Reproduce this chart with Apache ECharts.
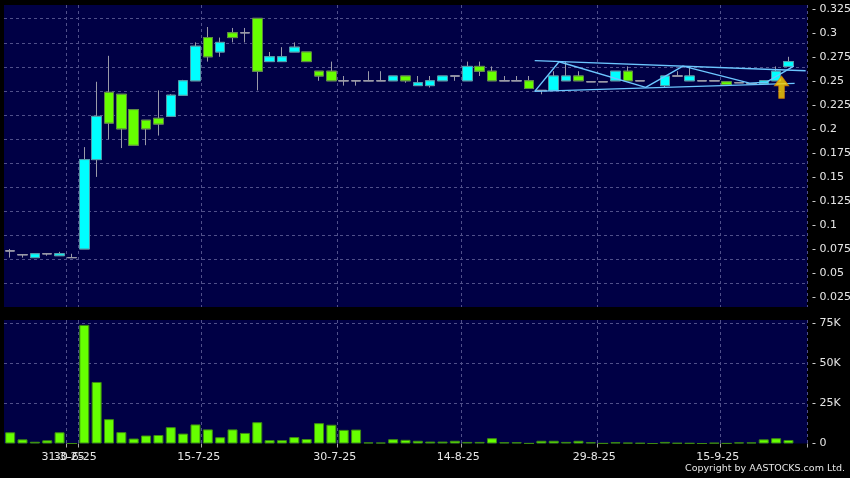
<!DOCTYPE html>
<html>
<head>
<meta charset="utf-8">
<script src="https://cdn.jsdelivr.net/npm/echarts@6/dist/echarts.min.js"></script>
<style>
html,body{margin:0;padding:0;background:#000;}
#chart{width:850px;height:478px;}
</style>
</head>
<body>
<div id="chart"></div>
<script>
// ---- data ----
var dates = ['24-3-25','25-3-25','26-3-25','27-3-25','28-3-25','31-3-25','30-6-25','2-7-25','3-7-25','4-7-25',
  '7-7-25','8-7-25','9-7-25','10-7-25','11-7-25','14-7-25','15-7-25','16-7-25','17-7-25','18-7-25',
  '21-7-25','22-7-25','23-7-25','24-7-25','25-7-25','28-7-25','29-7-25','30-7-25','31-7-25','1-8-25',
  '4-8-25','6-8-25','7-8-25','8-8-25','11-8-25','12-8-25','13-8-25','14-8-25','15-8-25','18-8-25',
  '19-8-25','20-8-25','21-8-25','22-8-25','25-8-25','26-8-25','27-8-25','28-8-25','29-8-25','1-9-25',
  '2-9-25','3-9-25','4-9-25','5-9-25','8-9-25','9-9-25','10-9-25','11-9-25','15-9-25','16-9-25',
  '17-9-25','18-9-25','19-9-25','22-9-25',''];
var tickLabels = ['31-3-25','30-6-25','15-7-25','30-7-25','14-8-25','29-8-25','15-9-25'];

var opens  = [0.073,0.069,0.066,0.070,0.068,0.066,0.075,0.168,0.238,0.236,
  0.220,0.209,0.211,0.213,0.235,0.250,0.295,0.280,0.300,0.300,
  0.315,0.270,0.270,0.280,0.280,0.260,0.260,0.250,0.250,0.250,
  0.250,0.250,0.255,0.245,0.245,0.250,0.255,0.250,0.265,0.260,
  0.250,0.250,0.250,0.240,0.240,0.250,0.255,0.249,0.249,0.250,
  0.260,0.250,null,0.245,0.255,0.250,0.250,0.250,0.249,0.248,
  0.247,0.247,0.250,0.265,null];
var closes = [0.073,0.069,0.070,0.070,0.070,0.066,0.168,0.213,0.206,0.200,
  0.183,0.200,0.205,0.235,0.250,0.286,0.275,0.290,0.295,0.300,
  0.260,0.275,0.275,0.285,0.270,0.255,0.250,0.250,0.250,0.250,
  0.250,0.255,0.250,0.248,0.250,0.255,0.255,0.265,0.260,0.250,
  0.250,0.250,0.242,0.240,0.255,0.255,0.250,0.249,0.249,0.260,
  0.250,0.250,null,0.255,0.255,0.255,0.250,0.250,0.246,0.248,
  0.247,0.250,0.260,0.270,null];
var lows   = [0.066,0.066,0.066,0.068,0.068,0.066,0.075,0.150,0.189,0.180,
  0.183,0.183,0.193,0.213,0.235,0.250,0.270,0.275,0.290,0.290,
  0.240,0.270,0.270,0.280,0.270,0.250,0.250,0.245,0.245,0.250,
  0.250,0.250,0.248,0.245,0.243,0.250,0.250,0.250,0.255,0.250,
  0.250,0.250,0.242,0.236,0.240,0.250,0.250,0.249,0.249,0.250,
  0.250,0.250,null,0.243,0.255,0.250,0.250,0.250,0.246,0.248,
  0.247,0.247,0.250,0.265,null];
var highs  = [0.075,0.069,0.070,0.070,0.072,0.070,0.181,0.249,0.276,0.236,
  0.220,0.209,0.240,0.236,0.251,0.290,0.306,0.295,0.305,0.305,
  0.315,0.280,0.285,0.290,0.280,0.260,0.270,0.255,0.250,0.260,
  0.260,0.255,0.255,0.255,0.255,0.255,0.255,0.270,0.270,0.265,
  0.255,0.255,0.255,0.240,0.260,0.270,0.260,0.249,0.249,0.260,
  0.265,0.250,null,0.255,0.260,0.265,0.250,0.250,0.249,0.248,
  0.247,0.250,0.265,0.275,null];
var volumes = [7000,2600,1100,2000,7000,0,74000,38400,15200,7100,
  3100,5000,5300,10200,6200,11900,8800,3900,8800,6600,
  13300,2100,2100,4000,2800,12700,11700,8500,8700,700,
  600,2700,2300,1700,1200,1200,1700,1000,1000,3300,
  800,800,100,1700,1700,1000,1700,800,100,800,
  500,300,0,1000,300,200,0,400,100,700,
  700,2600,3300,2200,null];

var priceTicks = [0.025,0.05,0.075,0.1,0.125,0.15,0.175,0.2,0.225,0.25,0.275,0.3,0.325];
var volTicks = [0,25000,50000,75000];

// triangle annotation (x in category index units, y in price)
var upperLine = [[42.46,0.2710],[64.39,0.2604]];
var lowerLine = [[42.46,0.2390],[63.5,0.2473]];
var zigzag = [[42.46,0.2390],[44.43,0.2698],[51.44,0.2431],[54.46,0.2653],[59.86,0.2476],[61.23,0.2486],[63.42,0.2653]];
var arrowPoint = [[62.44,0.2434]];

// ---- build ----
var wickData = dates.map(function(d,i){
  if (opens[i] == null) return ['-','-','-','-'];
  return [opens[i], closes[i], lows[i], highs[i]];
});
var bodyData = dates.map(function(d,i){
  if (opens[i] == null) return ['-','-','-','-'];
  return [opens[i], closes[i], Math.min(opens[i],closes[i]), Math.max(opens[i],closes[i])];
});
function isLabel(i){ return tickLabels.indexOf(dates[i]) >= 0; }
var firstLabel = tickLabels[0];

var bg = '#000045';
var gridCol = '#50508a';
var txtCol = '#e6e6e6';
var font = 'DejaVu Sans';
var gridLineStyle = {color:gridCol, type:[3,3], width:1};
var richLabel = {a:{padding:[0,18,0,0], color:txtCol, fontFamily:font, fontSize:11}};

var chart = echarts.init(document.getElementById('chart'), null, {renderer:'canvas'});
chart.setOption({
  animation: false,
  backgroundColor: '#000',
  grid: [
    {left:4, right:43, top:5, height:302, show:true, backgroundColor:bg, borderWidth:0, containLabel:false, outerBoundsMode:'none'},
    {left:4, right:43, top:320, height:123.5, show:true, backgroundColor:bg, borderWidth:0, containLabel:false, outerBoundsMode:'none'}
  ],
  xAxis: [
    {type:'category', gridIndex:0, position:'bottom', data:dates, boundaryGap:true,
      axisLine:{show:false}, axisTick:{show:false}, axisLabel:{show:false},
      splitLine:{show:true, interval:function(i){return isLabel(i);}, lineStyle:gridLineStyle}},
    {type:'category', gridIndex:1, position:'bottom', data:dates, boundaryGap:true,
      axisLine:{show:false},
      axisTick:{show:true, interval:function(i){return isLabel(i);}, length:4, lineStyle:{color:'#aaaaaa'}},
      axisLabel:{show:true, hideOverlap:false, interval:function(i){return isLabel(i) && dates[i] !== firstLabel;}, color:txtCol, fontFamily:font, fontSize:11, margin:8,
        formatter:function(v){return '{a|'+v+'}';}, rich:richLabel},
      splitLine:{show:true, interval:function(i){return isLabel(i);}, lineStyle:gridLineStyle}},
    {type:'value', gridIndex:0, position:'top', min:-0.5, max:dates.length-0.5, show:false},
    {type:'category', gridIndex:1, position:'bottom', data:dates, boundaryGap:true,
      axisLine:{show:false}, axisTick:{show:false}, splitLine:{show:false},
      axisLabel:{show:true, interval:function(i){return dates[i] === firstLabel;}, color:txtCol, fontFamily:font, fontSize:11, margin:8,
        formatter:function(v){return '{a|'+v+'}';}, rich:richLabel}}
  ],
  yAxis: [
    {type:'value', gridIndex:0, position:'right', min:0.0146, max:0.3289, interval:0.025, offset:0,
      axisLine:{show:false}, axisTick:{show:false},
      axisLabel:{customValues:priceTicks, color:txtCol, fontFamily:font, fontSize:11, margin:5,
        formatter:function(v){return '- ' + String(+(+v).toFixed(3));}},
      splitLine:{show:true, showMinLine:false, showMaxLine:false, lineStyle:gridLineStyle}},
    {type:'value', gridIndex:1, position:'right', min:0, max:77060, interval:25000, offset:0,
      axisLine:{show:false}, axisTick:{show:false},
      axisLabel:{customValues:volTicks, color:txtCol, fontFamily:font, fontSize:11, margin:5,
        formatter:function(v){return '- ' + (v===0?'0':(v/1000)+'K');}},
      splitLine:{show:true, showMinLine:false, showMaxLine:false, lineStyle:gridLineStyle}}
  ],
  series: [
    {type:'candlestick', xAxisIndex:0, yAxisIndex:0, data:wickData, barWidth:10, z:3,
      itemStyle:{color:'#9a9aa8', color0:'#9a9aa8', borderColor:'#9a9aa8', borderColor0:'#9a9aa8', borderColorDoji:'#9a9aa8', borderWidth:1}},
    {type:'candlestick', xAxisIndex:0, yAxisIndex:0, data:bodyData, barWidth:10, z:4,
      itemStyle:{color:'#00ffff', color0:'#66ff00', borderColor:'#4f9aa8', borderColor0:'#5b8a3c', borderColorDoji:'#9a9aa8', borderWidth:1}},
    {type:'line', xAxisIndex:2, yAxisIndex:0, data:upperLine, symbol:'none', z:5, lineStyle:{color:'#6cc6ff', width:1.4}},
    {type:'line', xAxisIndex:2, yAxisIndex:0, data:lowerLine, symbol:'none', z:5, lineStyle:{color:'#6cc6ff', width:1.4}},
    {type:'line', xAxisIndex:2, yAxisIndex:0, data:zigzag, symbol:'none', z:5, lineStyle:{color:'#6cc6ff', width:1.4}},
    {type:'scatter', xAxisIndex:2, yAxisIndex:0, data:arrowPoint, z:6,
      symbol:'path://M5,0 L10,6 L7,6 L7,14 L3,14 L3,6 L0,6 Z', symbolSize:[14,22],
      itemStyle:{color:'#ffd400', borderColor:'#e08a00', borderWidth:1}},
    {type:'bar', xAxisIndex:1, yAxisIndex:1, data:volumes, barWidth:10, z:3,
      itemStyle:{color:'#66ff00', borderColor:'#3d8a12', borderWidth:1}}
  ],
  graphic: [
    {type:'text', right:5, top:464, style:{text:'Copyright by AASTOCKS.com Ltd.', fill:txtCol, font:'9.5px DejaVu Sans'}}
  ]
});
</script>
</body>
</html>
